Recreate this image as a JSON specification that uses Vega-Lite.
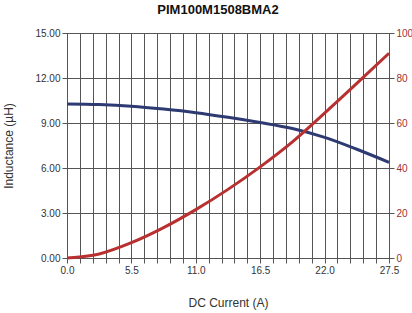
{
  "$schema": "https://vega.github.io/schema/vega-lite/v6.json",
  "width": 322,
  "height": 225,
  "autosize": "none",
  "padding": {"left": 67, "top": 33, "right": 23, "bottom": 55},
  "background": "white",
  "title": {"text": "PIM100M1508BMA2", "fontSize": 13, "font": "Liberation Sans", "fontWeight": "bold", "color": "#111", "offset": 11, "dx": -10},
  "config": {
    "view": {"stroke": "#555", "strokeWidth": 1},
    "axis": {"labelFont": "Liberation Sans", "titleFont": "Liberation Sans", "labelFontSize": 10, "titleFontSize": 12, "titleFontWeight": "normal", "labelColor": "#333", "titleColor": "#333", "gridColor": "#555", "gridOpacity": 1, "domainColor": "#555", "tickColor": "#555"}
  },
  "data": {"values": [
    {"a": 0, "s": "L", "v": 10.27},
    {"a": 2.75, "s": "L", "v": 10.23},
    {"a": 5.5, "s": "L", "v": 10.12},
    {"a": 8.25, "s": "L", "v": 9.93},
    {"a": 11, "s": "L", "v": 9.69},
    {"a": 13.75, "s": "L", "v": 9.38},
    {"a": 16.5, "s": "L", "v": 9.03},
    {"a": 19.25, "s": "L", "v": 8.63},
    {"a": 22, "s": "L", "v": 8.04},
    {"a": 24.75, "s": "L", "v": 7.25},
    {"a": 27.5, "s": "L", "v": 6.38},
    {"a": 0, "s": "T", "v": 0},
    {"a": 2.75, "s": "T", "v": 1.8},
    {"a": 5.5, "s": "T", "v": 6.8},
    {"a": 8.25, "s": "T", "v": 13.5},
    {"a": 11, "s": "T", "v": 21.5},
    {"a": 13.75, "s": "T", "v": 30.5},
    {"a": 16.5, "s": "T", "v": 40.5},
    {"a": 19.25, "s": "T", "v": 51.6},
    {"a": 22, "s": "T", "v": 64.4},
    {"a": 24.75, "s": "T", "v": 77.6},
    {"a": 27.5, "s": "T", "v": 91}
  ]},
  "encoding": {
    "x": {"field": "a", "type": "quantitative", "scale": {"domain": [0, 27.5], "nice": false},
      "axis": {"title": "DC Current (A)", "titlePadding": 22,
        "values": [0,1.1,2.2,3.3,4.4,5.5,6.6,7.7,8.8,9.9,11,12.1,13.2,14.3,15.4,16.5,17.6,18.7,19.8,20.9,22,23.1,24.2,25.3,26.4,27.5],
        "labelExpr": "round(datum.value*10) % 55 === 0 ? format(datum.value, '.1f') : ''",
        "labelFlush": false, "labelOverlap": false, "grid": true}}
  },
  "layer": [
    {
      "transform": [{"filter": "datum.s === 'L'"}],
      "mark": {"type": "line", "color": "#2e3a72", "strokeWidth": 3, "interpolate": "monotone"},
      "encoding": {
        "y": {"field": "v", "type": "quantitative", "scale": {"domain": [0, 15], "nice": false},
          "axis": {"title": "Inductance (µH)", "values": [0,3,6,9,12,15], "format": ".2f", "grid": true, "titleX": -52}}
      }
    },
    {
      "transform": [{"filter": "datum.s === 'T'"}],
      "mark": {"type": "line", "color": "#b83030", "strokeWidth": 3, "interpolate": "monotone"},
      "encoding": {
        "y": {"field": "v", "type": "quantitative", "scale": {"domain": [0, 100], "nice": false},
          "axis": {"orient": "right", "title": null, "values": [0,20,40,60,80,100], "format": "d", "grid": false, "labelColor": "#a03030"}}
      }
    }
  ],
  "resolve": {"scale": {"y": "independent"}}
}
